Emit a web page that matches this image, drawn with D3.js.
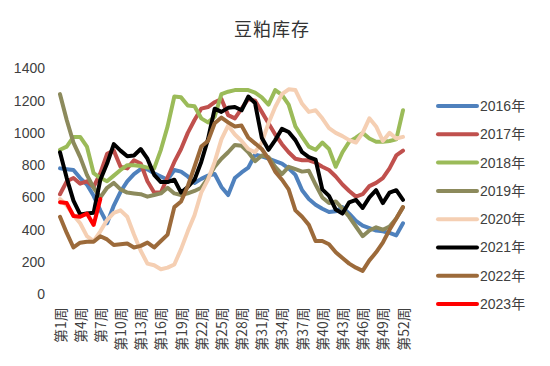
<!DOCTYPE html>
<html lang="zh">
<head>
    <meta charset="UTF-8">
    <title>豆粕库存</title>
    <script src="https://d3js.org/d3.v7.min.js"></script>
    <style>
        * {
            margin: 0;
            padding: 0;
            box-sizing: border-box;
        }

        html, body {
            width: 550px;
            height: 366px;
            overflow: clip;
            background: #fff;
        }

        svg {
            font-family: "Liberation Sans", "Noto Sans CJK SC", sans-serif;
        }
    </style>
</head>
<body>
<svg id="chart" width="550" height="366"></svg>
<script>
    const weeks = d3.range(1, 53).map(w => `第${w}周`)
    const weekTicks = d3.range(1, 53, 3).map(w => `第${w}周`)
    const yTicks = [ 0, 200, 400, 600, 800, 1000, 1200, 1400 ]

    const years = [ "2016年", "2017年", "2018年", "2019年", "2020年", "2021年", "2022年", "2023年" ]
    const colors = [ "#4f81bd", "#c0504d", "#9bbb59", "#8c8a5c", "#f5cfb3", "#000000", "#9c6a3a", "#ff0000" ]

    const s2016 = [ 780, 775, 770, 720, 680, 610, 520, 440, 550, 635, 700, 745, 775, 775, 750, 730, 710, 770, 760, 730,
        690, 715, 735, 745, 665, 615, 720, 755, 785, 865, 855, 840, 825, 810, 780, 740, 645, 590, 555, 530,
        510, 515, 540, 500, 455, 425, 410, 395, 390, 380, 365, 440 ]
    const s2017 = [ 620, 700, 720, 685, 700, 665, 750, 870, 890, 790, 780, 830, 810, 700, 630, 630, 725, 820, 900, 1000,
        1080, 1150, 1160, 1190, 1210, 1110, 1090, 1150, 1210, 1200, 1130, 1060, 990, 930, 880, 840, 830, 830, 815, 790,
        770, 730, 680, 640, 605, 620, 670, 690, 720, 780, 860, 890 ]
    const s2018 = [ 895, 915, 975, 975, 915, 750, 720, 700, 735, 770, 800, 800, 795, 785, 780, 895, 1040, 1225, 1220, 1170,
        1165, 1090, 1065, 1100, 1240, 1255, 1265, 1265, 1265, 1250, 1220, 1175, 1265, 1235, 1175, 1040, 975, 915, 895, 940,
        900, 790, 880, 945, 970, 1000, 965, 945, 945, 950, 960, 1140 ]
    const s2019 = [ 1240, 1080, 940, 850, 740, 660, 600, 660, 690, 650, 630, 625, 620, 605, 615, 625, 660, 625, 615, 625,
        640, 660, 720, 790, 840, 880, 925, 920, 880, 825, 860, 850, 790, 745, 790, 775, 760, 765, 680, 600,
        565, 575, 530, 480, 420, 360, 395, 415, 400, 420, 470, 540 ]
    const s2020 = [ 590, 550, 490, 440, 360, 330, 390, 460, 505, 520, 480, 370, 270, 190, 180, 155, 165, 185, 280, 390,
        490, 630, 710, 820, 960, 1045, 990, 950, 900, 880, 940, 1060, 1160, 1240, 1270, 1265, 1180, 1130, 1140, 1090,
        1030, 1000, 980, 955, 940, 1000, 1090, 1040, 950, 1000, 965, 975 ]
    const s2021 = [ 880, 720, 580, 495, 500, 505, 710, 810, 930, 890, 855, 860, 900, 840, 740, 695, 695, 710, 630, 665,
        710, 820, 960, 1150, 1130, 1155, 1160, 1140, 1225, 1185, 970, 895, 955, 1025, 1005, 955, 880, 850, 835, 650,
        610, 525, 500, 570, 585, 535, 600, 645, 565, 630, 645, 585 ]
    const s2022 = [ 480, 380, 290, 320, 325, 325, 360, 340, 305, 310, 315, 290, 300, 320, 290, 330, 370, 540, 575, 670,
        790, 915, 950, 1060, 1095, 1065, 1040, 1045, 970, 935, 900, 840, 760, 710, 650, 520, 480, 430, 330, 330,
        310, 260, 225, 190, 165, 145, 210, 260, 320, 400, 470, 540 ]
    const s2023 = [ 570, 565, 485, 480, 500, 430, 590 ]

    const series = [ s2016, s2017, s2018, s2019, s2020, s2021, s2022, s2023 ]

    const svg = d3.select("#chart")

    const x = d3.scalePoint()
        .domain(weeks)
        .range([ 60, 403 ])
    const y = d3.scaleLinear()
        .domain([ 0, 1400 ])
        .range([ 294.3, 68.3 ])

    // title
    svg.append("text")
        .attr("x", 272)
        .attr("y", 36)
        .attr("text-anchor", "middle")
        .style("font-family", "'Noto Sans CJK SC', sans-serif")
        .style("font-size", "18px")
        .style("letter-spacing", "1px")
        .attr("fill", "#333")
        .text("豆粕库存")

    // y axis, labels only
    const yAxis = svg.append("g")
        .attr("transform", "translate(50,0)")
        .call(d3.axisLeft(y).tickValues(yTicks).tickFormat(d3.format("d")).tickSize(0).tickPadding(5))
    yAxis.select(".domain").remove()
    yAxis.selectAll("text")
        .style("font-size", "14px")
        .attr("fill", "#404040")

    // x axis, rotated week labels
    const xAxis = svg.append("g")
        .attr("transform", `translate(0,${y(0)})`)
        .call(d3.axisBottom(x).tickValues(weekTicks).tickSize(0))
    xAxis.select(".domain").remove()
    xAxis.selectAll("text")
        .attr("transform", "rotate(-90)")
        .attr("text-anchor", "end")
        .attr("x", -13)
        .attr("y", 0)
        .attr("dy", "0.36em")
        .style("font-family", "'Noto Sans CJK SC', sans-serif")
        .style("font-size", "14px")
        .attr("fill", "#404040")

    const line = d3.line()
        .x((_, i) => x(weeks[i]))
        .y(d => y(d))

    svg.append("g")
        .selectAll("path")
        .data(series)
        .join("path")
        .attr("d", line)
        .attr("fill", "none")
        .attr("stroke", (_, i) => colors[i])
        .attr("stroke-width", 4)
        .attr("stroke-linejoin", "round")
        .attr("stroke-linecap", "round")

    // legend
    const legend = svg.append("g")
        .selectAll("g")
        .data(years)
        .join("g")
        .attr("transform", (_, i) => `translate(436 ${106 + i * 28.3})`)
    legend.append("line")
        .attr("x1", 2)
        .attr("x2", 41)
        .attr("stroke", (_, i) => colors[i])
        .attr("stroke-width", 4)
        .attr("stroke-linecap", "round")
    legend.append("text")
        .attr("x", 44)
        .attr("dy", "0.35em")
        .style("font-size", "14px")
        .attr("fill", "#404040")
        .text(d => d)
</script>
</body>
</html>
